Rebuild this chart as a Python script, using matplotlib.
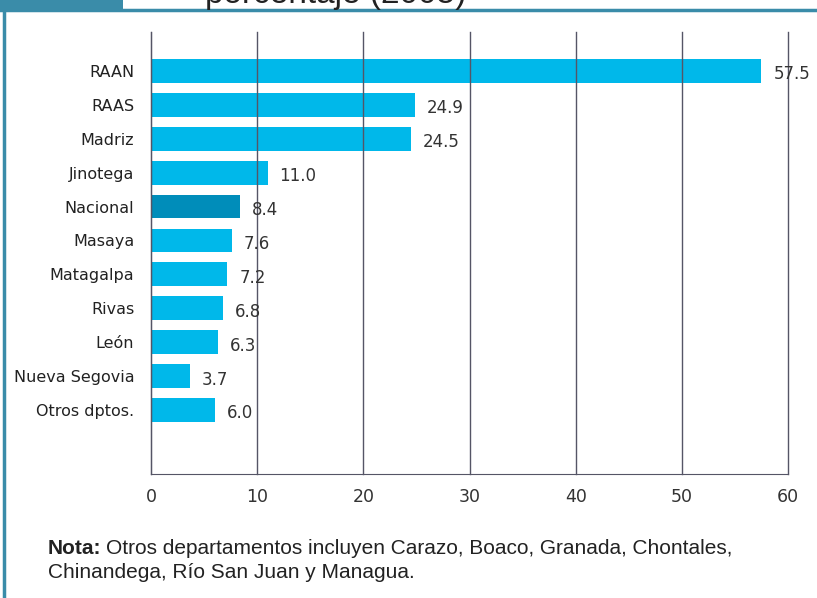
import matplotlib
matplotlib.use("Agg")
import matplotlib.pyplot as plt
from matplotlib.patches import Rectangle
from matplotlib.lines import Line2D

categories = ["RAAN", "RAAS", "Madriz", "Jinotega", "Nacional", "Masaya",
              "Matagalpa", "Rivas", "León", "Nueva Segovia", "Otros dptos."]
values = [57.5, 24.9, 24.5, 11.0, 8.4, 7.6, 7.2, 6.8, 6.3, 3.7, 6.0]
value_labels = ["57.5", "24.9", "24.5", "11.0", "8.4", "7.6", "7.2", "6.8", "6.3", "3.7", "6.0"]
xticks = [0, 10, 20, 30, 40, 50, 60]
highlight = "Nacional"

FONT = "Liberation Sans"
CFONT = "DejaVu Sans"
W, H = 817, 598
fig = plt.figure(figsize=(W / 100, H / 100), dpi=100)
fig.patch.set_facecolor("white")

teal = "#3A8CA9"
# header decorations
fig.add_artist(Rectangle((0, 1 - 10 / H), 123 / W, 10 / H, transform=fig.transFigure,
                         facecolor=teal, edgecolor="none"))
fig.add_artist(Line2D([0, 1], [1 - 10 / H, 1 - 10 / H], transform=fig.transFigure,
                      color=teal, lw=2.5))
fig.add_artist(Line2D([4 / W, 4 / W], [0, 1 - 10 / H], transform=fig.transFigure,
                      color=teal, lw=2.5))
fig.text(205 / W, 1 + 6 / H, "porcentaje (2005)", fontsize=24, color="#222222",
         ha="left", va="center", family=FONT)

x0, x1 = 151, 788
ytop, ybot = 32, 474
ax = fig.add_axes([x0 / W, 1 - ybot / H, (x1 - x0) / W, (ybot - ytop) / H])

n = len(categories)
ypos = list(range(n))
colors = ["#008DBA" if c == highlight else "#00B8EA" for c in categories]
ax.barh(ypos, values, height=0.7, color=colors, zorder=1)
ax.set_ylim(n - 1 + 1.89, -1.15)
ax.set_xlim(0, 60)

for y, v, lab in zip(ypos, values, value_labels):
    ax.annotate(lab, (v, y), xytext=(8.5, -2.5), textcoords="offset points",
                ha="left", va="center", fontsize=12, color="#333333",
                family=CFONT, zorder=3, annotation_clip=False)

ax.set_xticks(xticks)
ax.set_xticklabels([str(t) for t in xticks], fontsize=12.5, color="#333333", family=CFONT)
ax.set_yticks(ypos)
ax.set_yticklabels(categories, fontsize=11.5, color="#222222", family=CFONT)
ax.tick_params(axis="both", length=0)
ax.tick_params(axis="x", pad=10)
ax.tick_params(axis="y", pad=12)
ax.grid(axis="x", color="#555566", lw=1, zorder=2)
for gl in ax.get_xgridlines():
    gl.set_clip_on(False)
ax.set_axisbelow(False)
for s in ["top", "right"]:
    ax.spines[s].set_visible(False)
ax.spines["left"].set_color("#333344")
ax.spines["bottom"].set_color("#555566")

t_bold = fig.text(48 / W, 1 - 548 / H, "Nota:", fontsize=15, color="#222222",
                  ha="left", va="center", weight="bold", family=FONT)
fig.canvas.draw()
bb = t_bold.get_window_extent(renderer=fig.canvas.get_renderer())
fig.text((bb.x1 + 4) / W, 1 - 548 / H,
         "Otros departamentos incluyen Carazo, Boaco, Granada, Chontales,",
         fontsize=15, color="#222222", ha="left", va="center", family=FONT)
fig.text(48 / W, 1 - 573 / H, "Chinandega, Río San Juan y Managua.",
         fontsize=15, color="#222222", ha="left", va="center", family=FONT)

fig.savefig("out.png", dpi=100)
